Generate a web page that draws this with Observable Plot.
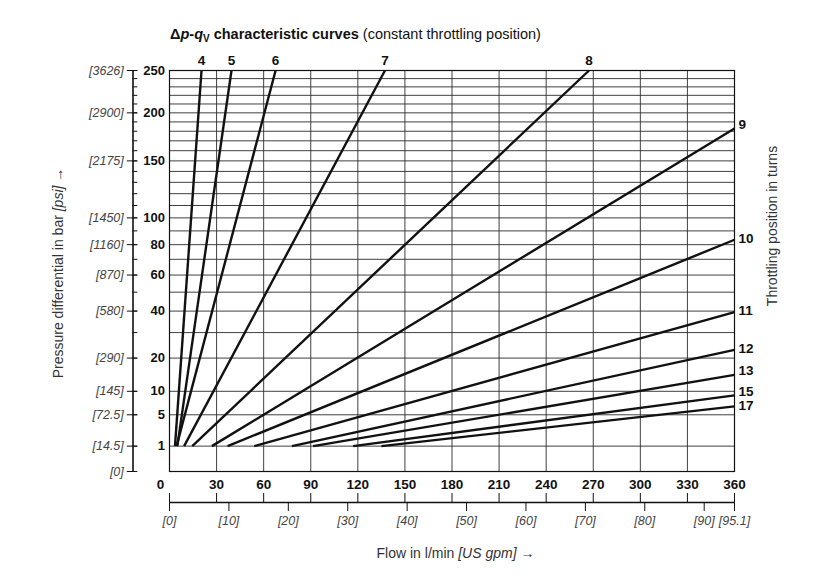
<!DOCTYPE html>
<html>
<head>
<meta charset="utf-8">
<script src="https://cdn.jsdelivr.net/npm/d3@7"></script>
<script src="https://cdn.jsdelivr.net/npm/@observablehq/plot@0.6"></script>
<style>
html, body { margin: 0; padding: 0; background: #fff; }
#wrap { position: relative; width: 838px; height: 578px; overflow: hidden; }
#title { position: absolute; left: 170px; top: 26px; font: 14.5px/16px "Liberation Sans", Arial, sans-serif; color: #111; white-space: nowrap; }
#title sub { font-size: 10px; vertical-align: -3px; line-height: 0; }
#chart { position: absolute; left: 0; top: 50px; }
</style>
</head>
<body>
<div id="wrap">
  <div id="title"><b>Δ<i>p</i>-<i>q</i><sub>V</sub> characteristic curves</b> (constant throttling position)</div>
  <div id="chart"></div>
</div>
<script>
// ---- data ----
const curveLabels  = ["4", "5", "6", "7", "8", "9", "10", "11", "12", "13", "15", "17"];
const startFlow    = [3.5, 5, 4.5, 9.3, 14.5, 27, 37, 54, 78, 91.5, 117, 135];      // l/min at Δp = 1 bar
const startPressure = 1;
const endFlow      = [20.4, 39.5, 67.6, 137.3, 267.3, 360, 360, 360, 360, 360, 360, 360];
const endPressure  = [250, 250, 250, 250, 250, 183, 83.5, 39.5, 23, 14.5, 9, 6.6];

const flowTicks      = [0, 30, 60, 90, 120, 150, 180, 210, 240, 270, 300, 330, 360];
const pressureGrid   = [1, 5, 10, 20, 30, 40, 50, 60, 70, 80, 90, 100, 110, 120, 130, 140, 150, 160, 170, 180, 190, 200, 210, 220, 230, 240, 250];
const pressureLabels = [1, 5, 10, 20, 40, 60, 80, 100, 150, 200, 250];
const psiTicks       = [0, 1, 5, 10, 20, 40, 60, 80, 100, 150, 200, 250];
const psiLabels      = ["[0]", "[14.5]", "[72.5]", "[145]", "[290]", "[580]", "[870]", "[1160]", "[1450]", "[2175]", "[2900]", "[3626]"];
const gpmTicks       = [0, 10, 20, 30, 40, 50, 60, 70, 80, 90, 95.1];
const gpmMax = 95.1, flowMax = 360;

const yTitle = "Pressure differential in bar [psi] →";
const xTitle = "Flow in l/min [US gpm] →";
const rTitle = "Throttling position in turns";

// ---- build ----
const curves = curveLabels.map((label, i) => ({
  label, q0: startFlow[i], p0: startPressure, q1: endFlow[i], p1: endPressure[i]
}));
const toLpm = g => g * flowMax / gpmMax;
const topEnds = curves.filter(d => d.p1 === 250);
const rightEnds = curves.filter(d => d.q1 === 360);
const raised = new Set(["9", "13", "15"]);

const FONT = '"Liberation Sans", Arial, sans-serif';
const NUM = FONT;

const chart = Plot.plot({
  width: 838,
  height: 528,
  marginLeft: 169,
  marginRight: 104,
  marginTop: 20,
  marginBottom: 107,
  style: { fontFamily: FONT, fontSize: "13px", color: "#111", background: "#fff", overflow: "visible" },
  x: { domain: [0, 360], axis: null },
  y: { type: "sqrt", domain: [0, 250], axis: null },
  marks: [
    Plot.ruleY(pressureGrid, { stroke: "#2b2b2b", strokeWidth: 0.9 }),
    Plot.ruleX(flowTicks.filter(d => d > 0 && d < 360), { stroke: "#2b2b2b", strokeWidth: 0.9 }),
    Plot.frame({ stroke: "#111", strokeWidth: 1.2 }),

    Plot.link(curves, { x1: "q0", y1: "p0", x2: "q1", y2: "p1", stroke: "#111", strokeWidth: 2.4 }),
    Plot.text(topEnds, {
      x: "q1", y: "p1", text: "label", dy: -10, fontWeight: "bold", fontSize: 13.5, fontFamily: NUM, fill: "#111"
    }),
    Plot.text(rightEnds.filter(d => !raised.has(d.label)), {
      x: "q1", y: "p1", text: "label", dx: 4, dy: -1, textAnchor: "start", fontWeight: "bold", fontSize: 13.5, fontFamily: NUM, fill: "#111"
    }),
    Plot.text(rightEnds.filter(d => raised.has(d.label)), {
      x: "q1", y: "p1", text: "label", dx: 4, dy: -4, textAnchor: "start", fontWeight: "bold", fontSize: 13.5, fontFamily: NUM, fill: "#111"
    }),

    // bar labels
    Plot.axisY(pressureLabels, { anchor: "left", tickSize: 0, tickPadding: 4.5, fontWeight: "bold", fontSize: 13, fontFamily: NUM, fill: "#111", label: null }),
    // psi axis
    Plot.ruleX([0], { y1: 0, y2: 250, dx: -36.5, stroke: "#111", strokeWidth: 1.6 }),
    Plot.axisY(pressureGrid, { anchor: "left", dx: -31.7, tickSize: 4.8, fill: "none", stroke: "#111", label: null }),
    Plot.axisY(psiTicks, {
      anchor: "left", dx: -31.7, tickSize: 10.5, tickPadding: 3.5,
      tickFormat: d => psiLabels[psiTicks.indexOf(d)],
      fontStyle: "italic", fontSize: 12.5, fill: "#444", stroke: "#111", label: null
    }),

    // l/min labels
    Plot.axisX(flowTicks.filter(d => d > 0), { anchor: "bottom", tickSize: 0, tickPadding: 8, fontWeight: "bold", fontSize: 13.5, fontFamily: NUM, fill: "#111", label: null }),
    Plot.axisX([0], { anchor: "bottom", tickSize: 0, tickPadding: 8, dx: -9, fontWeight: "bold", fontSize: 13.5, fontFamily: NUM, fill: "#111", label: null }),
    // secondary axis line with l/min ticks up and gpm ticks down
    Plot.ruleY([0], { x1: 0, x2: 360, dy: 31, stroke: "#111", strokeWidth: 1.6 }),
    Plot.axisX(flowTicks, { anchor: "bottom", dy: 22, tickSize: 9, fill: "none", stroke: "#111", label: null }),
    Plot.axisX(gpmTicks.map(toLpm), {
      anchor: "bottom", dy: 31, tickSize: 9, tickPadding: 5,
      tickFormat: d => `[${+(d * gpmMax / flowMax).toFixed(1)}]`,
      fontStyle: "italic", fontSize: 12.5, fill: "#444", stroke: "#111", label: null
    }),

    // titles
    Plot.text([yTitle], { frameAnchor: "left", dx: -111, dy: 2, rotate: -90, textAnchor: "middle", lineAnchor: "middle", fontSize: 14, fill: "#333" }),
    Plot.text([xTitle], { frameAnchor: "bottom", dx: 3.5, dy: 82, textAnchor: "middle", lineAnchor: "middle", fontSize: 14, fill: "#333" }),
    Plot.text([rTitle], { frameAnchor: "right", dx: 38, dy: -45, rotate: -90, textAnchor: "middle", lineAnchor: "middle", fontSize: 14, fill: "#333" })
  ]
});

// italic bracketed units inside the axis titles
d3.select(chart).selectAll("text").each(function () {
  const t = this.textContent;
  if (t === yTitle || t === xTitle) {
    const m = t.match(/^(.*?)(\[.*?\])(.*)$/);
    const sel = d3.select(this);
    sel.text(null);
    sel.append("tspan").text(m[1]);
    sel.append("tspan").attr("font-style", "italic").text(m[2]);
    sel.append("tspan").text(m[3]);
  }
});

document.getElementById("chart").appendChild(chart);
</script>
</body>
</html>
